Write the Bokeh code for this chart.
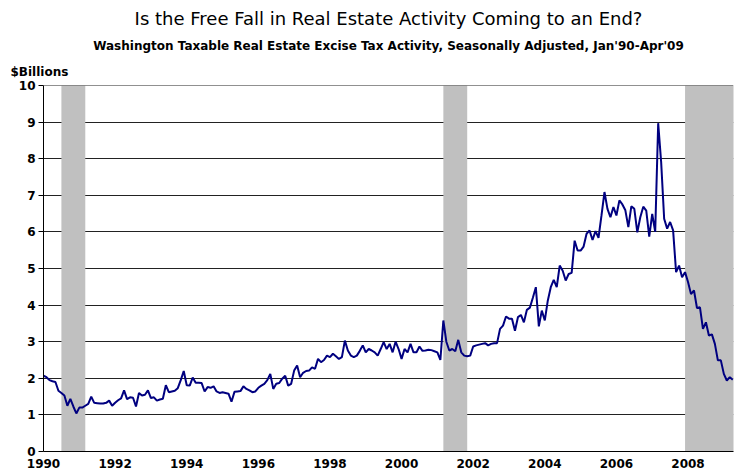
from bokeh.plotting import figure
from bokeh.models import Title, FixedTicker, Range1d, Span
from bokeh.embed import file_html
from bokeh.resources import INLINE

# Monthly Washington taxable real estate excise tax activity ($Billions), Jan 1990 - Apr 2009
v1990 = [2.07, 2.03, 1.95, 1.92, 1.90, 1.66, 1.60, 1.53, 1.25, 1.44, 1.23, 1.04]
v1991 = [1.20, 1.20, 1.25, 1.30, 1.50, 1.33, 1.32, 1.31, 1.31, 1.33, 1.39, 1.25]
v1992 = [1.33, 1.40, 1.45, 1.67, 1.43, 1.48, 1.47, 1.23, 1.60, 1.53, 1.55, 1.67]
v1993 = [1.46, 1.48, 1.39, 1.42, 1.44, 1.81, 1.62, 1.64, 1.66, 1.73, 1.95, 2.20]
v1994 = [1.81, 1.80, 2.02, 1.88, 1.88, 1.87, 1.64, 1.76, 1.74, 1.78, 1.64, 1.60]
v1995 = [1.62, 1.60, 1.58, 1.36, 1.63, 1.64, 1.65, 1.78, 1.71, 1.67, 1.62, 1.64]
v1996 = [1.74, 1.80, 1.85, 1.95, 2.12, 1.71, 1.85, 1.87, 1.99, 2.07, 1.80, 1.85]
v1997 = [2.21, 2.35, 2.03, 2.15, 2.20, 2.21, 2.30, 2.26, 2.53, 2.44, 2.50, 2.62]
v1998 = [2.58, 2.67, 2.60, 2.53, 2.58, 3.03, 2.76, 2.62, 2.58, 2.62, 2.75, 2.90]
v1999 = [2.71, 2.80, 2.76, 2.71, 2.62, 2.80, 2.99, 2.80, 2.94, 2.71, 3.00, 2.80]
v2000 = [2.53, 2.80, 2.71, 2.94, 2.71, 2.71, 2.87, 2.75, 2.76, 2.78, 2.77, 2.74]
v2001 = [2.71, 2.50, 3.58, 3.00, 2.76, 2.80, 2.74, 3.05, 2.71, 2.62, 2.60, 2.62]
v2002 = [2.87, 2.90, 2.92, 2.94, 2.96, 2.90, 2.94, 2.96, 2.96, 3.35, 3.44, 3.69]
v2003 = [3.63, 3.63, 3.30, 3.67, 3.73, 3.53, 3.87, 3.93, 4.20, 4.49, 3.42, 3.85]
v2004 = [3.58, 4.12, 4.49, 4.69, 4.49, 5.08, 4.94, 4.67, 4.85, 4.88, 5.76, 5.49]
v2005 = [5.49, 5.60, 5.95, 6.04, 5.78, 6.02, 5.84, 6.45, 7.09, 6.63, 6.40, 6.68]
v2006 = [6.45, 6.86, 6.75, 6.59, 6.13, 6.70, 6.63, 5.99, 6.40, 6.69, 6.58, 5.87]
v2007 = [6.49, 6.00, 8.97, 7.90, 6.36, 6.09, 6.27, 6.04, 4.90, 5.08, 4.76, 4.90]
v2008 = [4.63, 4.30, 4.40, 3.92, 3.94, 3.35, 3.53, 3.17, 3.20, 2.94, 2.49, 2.49]
v2009 = [2.12, 1.94, 2.03, 1.96]

# Recession periods (fractional years)
rec_start = [1990.5, 2001.167, 2007.917]
rec_end = [1991.167, 2001.833, 2009.3]

x_ticks = [1990, 1992, 1994, 1996, 1998, 2000, 2002, 2004, 2006, 2008]
y_ticks = [0, 1, 2, 3, 4, 5, 6, 7, 8, 9, 10]

values = (v1990 + v1991 + v1992 + v1993 + v1994 + v1995 + v1996 + v1997 + v1998 + v1999
          + v2000 + v2001 + v2002 + v2003 + v2004 + v2005 + v2006 + v2007 + v2008 + v2009)
months = [1990 + i / 12.0 for i in range(len(values))]

W, H = 735, 472
p = figure(width=W, height=H, output_backend="svg", toolbar_location=None,
           x_range=Range1d(1990, 2009.27), y_range=Range1d(0, 10),
           min_border_left=43, min_border_right=2, min_border_top=85, min_border_bottom=21)
p.outline_line_color = None
p.background_fill_color = "white"

p.xgrid.visible = False
p.ygrid.ticker = FixedTicker(ticks=y_ticks)
p.ygrid.grid_line_color = "#222222"
p.ygrid.grid_line_width = 1

p.quad(left=rec_start, right=rec_end, bottom=0, top=10, fill_color="#C0C0C0", line_color=None)
p.add_layout(Span(location=10, dimension="width", line_color="#222222", line_width=1))

p.line(months, values, line_color="#000080", line_width=2)

font = "DejaVu Sans"
p.xaxis.ticker = FixedTicker(ticks=x_ticks)
p.yaxis.ticker = FixedTicker(ticks=y_ticks)
for ax in (p.xaxis[0], p.yaxis[0]):
    ax.axis_line_color = "black"
    ax.major_label_text_font = font
    ax.major_label_text_font_style = "bold"
    ax.major_label_text_font_size = "12px"
    ax.major_label_text_color = "black"
    ax.minor_tick_line_color = None
p.xaxis.major_tick_out = 0
p.xaxis.major_tick_in = 0
p.xaxis.major_label_standoff = 7
p.yaxis.major_tick_out = 5
p.yaxis.major_tick_in = 0
p.yaxis.major_tick_line_color = "black"
p.yaxis.major_label_standoff = 3

t_units = Title(text="$Billions", align="left", offset=-33, standoff=13,
                text_font=font, text_font_size="12px", text_font_style="bold",
                text_color="black")
t_sub = Title(text="Washington Taxable Real Estate Excise Tax Activity, Seasonally Adjusted, Jan'90-Apr'09",
              align="center", offset=4, standoff=8, text_font=font, text_font_size="12px",
              text_font_style="bold", text_color="black")
t_main = Title(text="Is the Free Fall in Real Estate Activity Coming to an End?",
               align="center", offset=4, standoff=8, text_font=font, text_font_size="18px",
               text_font_style="normal", text_color="black")
p.add_layout(t_units, "above")
p.add_layout(t_sub, "above")
p.add_layout(t_main, "above")

open("out.html", "w").write(file_html(p, INLINE))
